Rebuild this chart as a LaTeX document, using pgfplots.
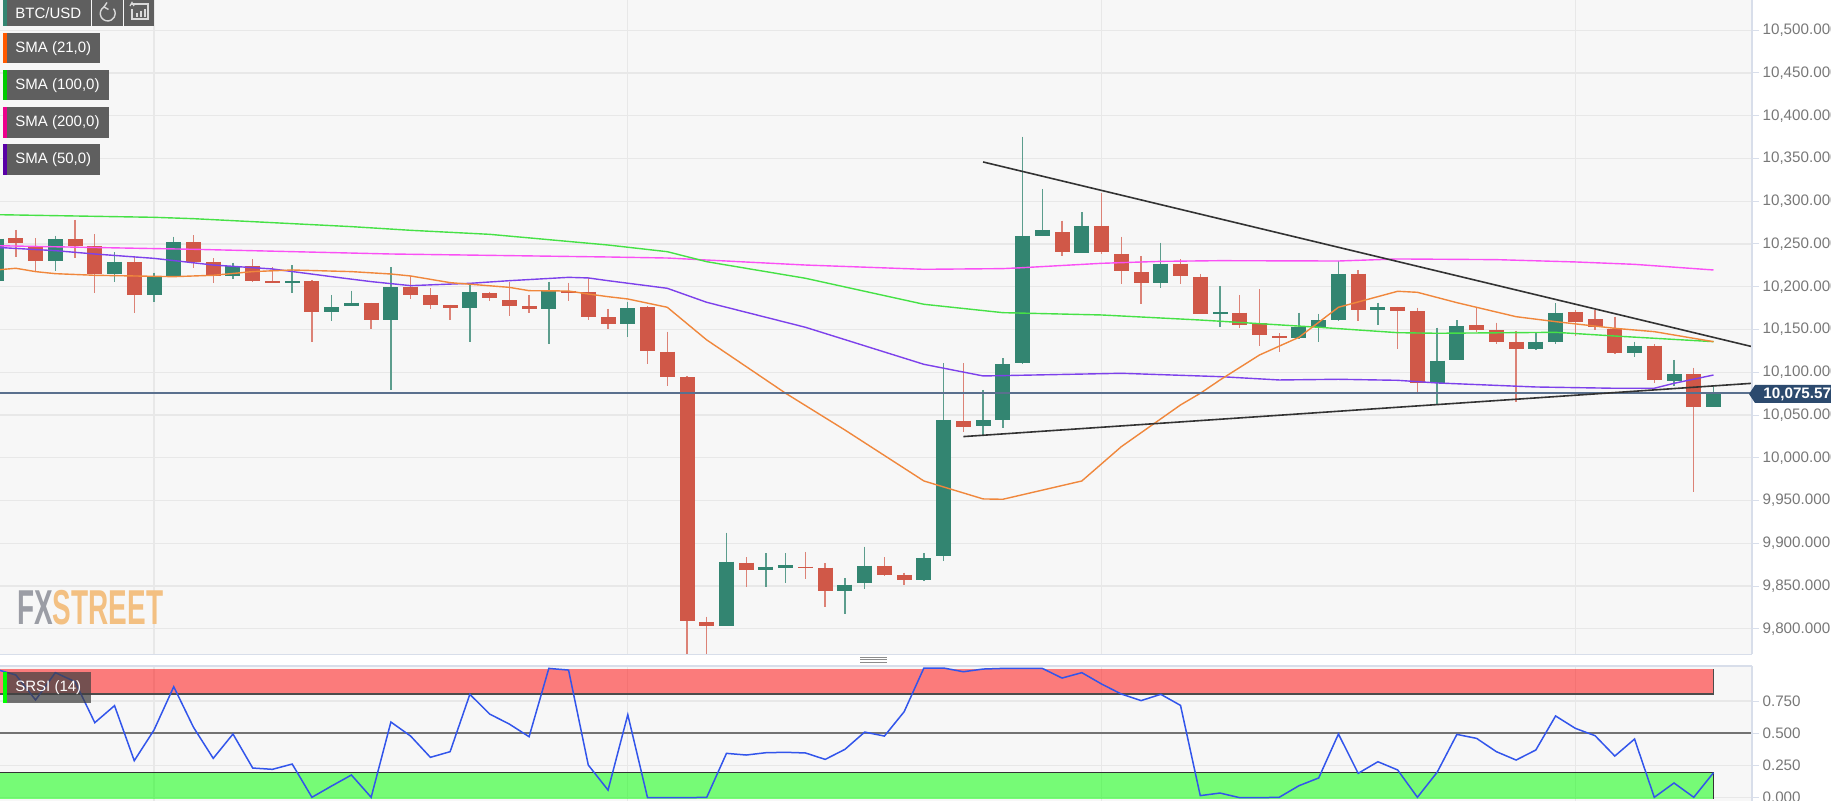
\documentclass[border=0pt]{standalone}
\usepackage{fontspec}
\setmainfont{Liberation Sans}
\usepackage{pgfplots}
\usepackage{pgfplotstable}
\pgfplotsset{compat=1.18}

\definecolor{bg}{RGB}{247,247,247}
\definecolor{gridc}{RGB}{232,232,232}
\definecolor{border}{RGB}{216,222,234}
\definecolor{upc}{RGB}{51,133,113}
\definecolor{downc}{RGB}{208,88,72}
\definecolor{chip}{RGB}{95,95,95}
\definecolor{sma21}{RGB}{240,135,60}
\definecolor{sma100}{RGB}{70,225,70}
\definecolor{sma200}{RGB}{250,80,245}
\definecolor{sma50}{RGB}{125,65,235}
\definecolor{lastc}{RGB}{90,112,142}
\definecolor{tagc}{RGB}{44,74,110}
\definecolor{srsi}{RGB}{50,85,235}
\definecolor{tickc}{RGB}{120,120,120}

% i top bot hi lo
\pgfplotstableread{
i top bot hi lo
1 10256.6 10250.8 10266.4 10235.2
2 10247.7 10230.5 10256.6 10218.8
4 10255.5 10247.7 10278.1 10233.2
5 10247.7 10214.5 10261.3 10193.1
7 10228.6 10190.0 10236.4 10169.0
10 10252.0 10229.3 10260.1 10222.3
11 10229.3 10213.0 10233.2 10204.0
13 10224.3 10206.7 10232.5 10206.0
14 10206.7 10204.4 10222.7 10204.0
16 10206.7 10170.5 10207.9 10135.4
19 10181.4 10160.8 10181.4 10150.2
21 10200.0 10190.0 10212.6 10185.3
22 10190.0 10178.7 10198.2 10173.6
23 10178.3 10174.8 10179.0 10161.1
25 10192.3 10186.5 10194.3 10183.4
26 10184.5 10177.5 10206.0 10165.8
27 10177.1 10173.6 10190.4 10169.0
29 10195.1 10192.3 10204.8 10183.4
30 10193.9 10164.7 10209.9 10161.1
31 10164.3 10156.1 10174.0 10151.0
33 10176.0 10125.3 10177.5 10109.7
34 10124.1 10094.1 10147.5 10084.0
35 10094.1 9808.9 10095.7 9760.0
36 9808.1 9803.0 9814.3 9760.0
38 9877.5 9869.3 9883.7 9849.4
41 9872.8 9871.2 9890.0 9858.7
42 9871.6 9844.3 9876.7 9825.2
45 9873.9 9863.4 9883.7 9861.9
46 9863.0 9856.8 9865.8 9851.0
49 10043.5 10035.7 10110.5 10030.6
54 10263.6 10240.3 10277.3 10236.4
56 10271.4 10241.0 10310.0 10237.9
57 10238.3 10218.8 10258.6 10203.2
58 10216.9 10204.0 10236.0 10179.5
60 10227.0 10212.6 10232.0 10203.2
61 10211.8 10168.2 10215.0 10168.0
63 10169.7 10155.3 10190.4 10151.4
64 10157.3 10143.6 10197.0 10130.8
65 10142.1 10139.7 10145.6 10124.1
69 10215.3 10172.4 10219.6 10160.0
71 10176.7 10172.1 10176.7 10127.2
72 10171.3 10087.1 10175.6 10075.4
75 10154.9 10149.5 10176.7 10147.1
76 10149.1 10135.8 10158.0 10132.7
77 10135.4 10127.2 10148.3 10064.9
80 10170.1 10159.2 10172.8 10142.4
81 10161.9 10152.6 10172.8 10149.5
82 10150.6 10122.2 10165.0 10121.4
84 10131.1 10090.6 10132.7 10087.1
86 10097.6 10059.8 10105.4 9960.5
}\downtable

\pgfplotstableread{
i top bot hi lo
0 10256.2 10206.7 10262.0 10200.0
3 10255.8 10230.5 10259.7 10218.8
6 10229.0 10214.5 10240.3 10206.0
8 10211.0 10190.0 10216.5 10182.2
9 10252.3 10211.8 10258.6 10211.0
12 10224.3 10213.0 10228.2 10209.5
15 10206.7 10204.4 10225.4 10193.1
17 10176.0 10170.5 10190.4 10159.6
18 10181.4 10177.1 10195.4 10177.0
20 10199.7 10160.8 10222.7 10079.3
24 10193.5 10174.8 10202.1 10135.4
28 10195.1 10173.6 10206.0 10132.7
32 10174.8 10156.1 10182.6 10140.9
37 9878.6 9803.0 9912.5 9803.0
39 9872.8 9869.3 9888.4 9849.4
40 9874.3 9871.6 9888.4 9854.1
43 9851.7 9844.3 9859.1 9817.4
44 9873.9 9854.1 9896.2 9846.3
47 9882.5 9856.8 9888.4 9856.0
48 10044.2 9885.6 10110.5 9879.8
50 10043.8 10037.2 10079.3 10025.5
51 10109.3 10044.2 10116.3 10034.5
52 10259.4 10110.5 10375.5 10110.0
53 10266.4 10259.4 10314.3 10259.4
55 10271.4 10239.1 10287.0 10239.0
59 10227.0 10204.0 10251.6 10198.2
62 10170.1 10167.8 10200.9 10153.4
66 10153.4 10139.7 10169.7 10139.0
67 10160.8 10153.4 10168.2 10135.8
68 10215.0 10161.1 10230.5 10160.4
70 10176.3 10172.4 10181.4 10154.9
73 10113.6 10087.9 10152.2 10062.9
74 10153.7 10114.4 10161.1 10114.0
78 10135.8 10127.2 10146.3 10126.1
79 10169.7 10135.8 10180.6 10132.7
83 10131.1 10122.2 10135.8 10118.3
85 10097.6 10090.2 10114.4 10084.0
87 10075.6 10059.8 10084.4 10059.8
}\uptable

\begin{document}
\begin{tikzpicture}
\useasboundingbox (0,0) rectangle (915.5pt,400.5pt);
\clip (0,0) rectangle (915.5pt,400.5pt);
\fill[white] (0,0) rectangle (915.5pt,400.5pt);
\fill[bg] (0,0) rectangle (876pt,67.5pt);
\fill[bg] (0,73.5pt) rectangle (876pt,400.5pt);

\pgfplotsset{
  paneaxis/.style={
    scale only axis, width=876pt,
    xmin=0.198, xmax=88.95,
    xtick={8,32,56,80}, xticklabels={},
    xmajorgrids, ymajorgrids,
    grid style={gridc, line width=0.6pt},
    axis line style={draw=none},
    major x tick style={draw=none},
    ytick pos=right, yticklabel pos=right, tick align=outside,
    major tick length=3.5pt,
    major y tick style={border, line width=0.5pt},
    ticklabel style={font=\fontsize{7.6}{9}\selectfont, text=tickc},
    yticklabel style={inner sep=1pt, xshift=0.6pt},
    scaled y ticks=false,
  },
  wick/.style={draw=none, mark=none, forget plot,
    error bars/.cd, y dir=minus, y explicit, error mark=none,
    error bar style={draw=#1, line width=0.7pt}},
  body/.style={draw=none, mark=none, forget plot,
    error bars/.cd, y dir=minus, y explicit, error mark=none,
    error bar style={draw=#1, line width=7.5pt}},
}

% price pane
\begin{axis}[paneaxis,
    at={(0pt,73.5pt)}, anchor=south west, height=327pt,
    ymin=9770.6, ymax=10535.3,
    ytick={9800,9850,...,10500},
    /pgf/number format/.cd, fixed, fixed zerofill, precision=3, 1000 sep={,}, assume math mode=true,
]
\addplot[wick=downc!75!white] table[x=i,y=hi,y error minus expr=\thisrow{hi}-\thisrow{lo}] {\downtable};
\addplot[wick=upc!80!white] table[x=i,y=hi,y error minus expr=\thisrow{hi}-\thisrow{lo}] {\uptable};
\addplot[body=downc] table[x=i,y=top,y error minus expr=\thisrow{top}-\thisrow{bot}] {\downtable};
\addplot[body=upc] table[x=i,y=top,y error minus expr=\thisrow{top}-\thisrow{bot}] {\uptable};

% SMA 200
\addplot[sma200, line width=0.7pt] coordinates {(0,10248)(10,10243.8)(20,10238.3)(31,10234.8)(34,10233.6)(41,10225.4)(47,10220.4)(51,10221.2)(52,10222.3)(56,10227.4)(59,10229.7)(62,10230.5)(68,10230.1)(71,10232.5)(76,10231.7)(80,10229)(83,10226.2)(87,10219.6)};
% SMA 100
\addplot[sma100, line width=0.7pt] coordinates {(0,10284.3)(8,10281.2)(10,10279.6)(18,10270.3)(21,10266)(25,10261.3)(31,10248.8)(34,10241)(36,10229.3)(41,10209.9)(47,10179.5)(51,10169.7)(56,10167)(61,10161.1)(67,10152.6)(71,10146.3)(73,10145.6)(79,10146.7)(82,10142.4)(87,10135.8)};
% SMA 50
\addplot[sma50, line width=0.7pt] coordinates {(0,10246.1)(3,10242.2)(5,10238.3)(8,10233.2)(11,10225.4)(14,10220.8)(17,10211.8)(19,10206)(21,10201.3)(24,10204)(26,10207.1)(29,10211)(30,10210.3)(31,10207.1)(34,10198.2)(36,10181.8)(41,10152.6)(47,10109.3)(50,10095.7)(51,10096.1)(57,10098.8)(62,10094.9)(65,10091)(68,10091.8)(71,10090.6)(73,10087.5)(78,10082.8)(82,10081.3)(84,10081.3)(85,10087.1)(87,10096.8)};
% SMA 21
\addplot[sma21, line width=0.7pt] coordinates {(0,10219.6)(1,10221.6)(2,10217.7)(3,10215.3)(5,10213.4)(7,10212.6)(9,10211.8)(11,10213.4)(13,10217.7)(15,10219.6)(18,10217.7)(20,10214.9)(21,10212.6)(23,10204.8)(26,10199.3)(27,10195.4)(29,10195)(30,10191.5)(31,10188.4)(32,10185.7)(34,10176)(36,10137.8)(40,10075.4)(43,10032.5)(47,9972.9)(50,9951.9)(51,9951.5)(55,9972.9)(57,10013)(60,10061.8)(61,10075.4)(62,10091)(64,10120.2)(66,10140.9)(68,10176)(71,10194.7)(72,10193.5)(74,10181.4)(77,10165)(79,10159.2)(82,10151.4)(84,10147.5)(87,10135.8)};

% last price
\addplot[lastc, line width=0.75pt] coordinates {(0.198,10075.57)(88.95,10075.57)};
% trend lines
\addplot[black!80, line width=0.8pt] coordinates {(50,10345.9)(88.95,10130)};
\addplot[black!80, line width=0.8pt] coordinates {(49,10024.8)(88.95,10087.1)};
\end{axis}

% SRSI pane
\begin{axis}[paneaxis,
    at={(0pt,0pt)}, anchor=south west, height=67.5pt,
    ymin=-0.0256, ymax=1.0217,
    ytick={0,0.25,0.5,0.75},
    /pgf/number format/.cd, fixed, fixed zerofill, precision=3, assume math mode=true,
]
\addplot[fill=red, fill opacity=0.5, draw=none] coordinates {(0,0.804)(87,0.804)(87,0.998)(0,0.998)} -- cycle;
\addplot[fill=green, fill opacity=0.52, draw=none] coordinates {(0,-0.012)(87,-0.012)(87,0.197)(0,0.197)} -- cycle;
\addplot[black!70, line width=0.6pt] coordinates {(0,0.804)(87,0.804)(87,0.998)};
\addplot[black!80, line width=0.6pt] coordinates {(0,0.197)(87,0.197)(87,-0.012)};
\addplot[black!55, line width=0.8pt] coordinates {(0.198,0.5)(88.95,0.5)};
\addplot[srsi, line width=0.75pt] coordinates {
(0,0.996)(1,0.952)(2,0.758)(3,0.970)(4,0.900)(5,0.582)(6,0.714)(7,0.287)(8,0.525)(9,0.861)
(10,0.546)(11,0.305)(12,0.494)(13,0.230)(14,0.220)(15,0.261)(16,0.003)(17,0.091)(18,0.176)(19,0.003)
(20,0.587)(21,0.478)(22,0.313)(23,0.357)(24,0.802)(25,0.649)(26,0.571)(27,0.473)(28,1.003)(29,0.990)
(30,0.253)(31,0.059)(32,0.644)(33,0)(34,0)(35,0)(36,0.003)(37,0.344)(38,0.331)(39,0.349)
(40,0.352)(41,0.347)(42,0.297)(43,0.375)(44,0.509)(45,0.478)(46,0.667)(47,1.006)(48,1.006)(49,0.977)
(50,0.998)(51,1.003)(52,1.003)(53,1.003)(54,0.928)(55,0.970)(56,0.882)(57,0.804)(58,0.753)(59,0.802)
(60,0.716)(61,0.016)(62,0.036)(63,0)(64,0)(65,0.003)(66,0.093)(67,0.153)(68,0.494)(69,0.189)
(70,0.279)(71,0.215)(72,0.003)(73,0.197)(74,0.491)(75,0.460)(76,0.357)(77,0.292)(78,0.370)(79,0.634)
(80,0.538)(81,0.481)(82,0.323)(83,0.455)(84,0.003)(85,0.114)(86,0.003)(87,0.194)};
\end{axis}

% everything below is in reference pixels, y down
\begin{scope}[shift={(0pt,400.5pt)}, x=0.5pt, y=-0.5pt]
  % pane borders
  \draw[border, line width=0.6pt] (0,654.5) -- (1752,654.5) (0,666) -- (1752,666);
  \draw[border, line width=0.6pt] (1752,0) -- (1752,654.5) (1752,666) -- (1752,801);
  \foreach \yy in {657.5,660,662.5} \draw[black!45, line width=0.5pt] (860,\yy) -- (887,\yy);

  % watermark
  \node[anchor=west, inner sep=0pt, font=\bfseries\fontsize{24.5}{25}\selectfont, xscale=0.57] at (17,608)
    {\textcolor[RGB]{155,157,165}{FX}\textcolor[RGB]{243,192,130}{STREET}};

  % last price tag
  \fill[tagc] (1749,394) -- (1755,385) -- (1835,385) -- (1835,403) -- (1755,403) -- cycle;
  \node[anchor=west, inner sep=0pt, text=white, font=\bfseries\fontsize{7.6}{9}\selectfont] at (1763,394.5) {10,075.57};

  % legend chips
  \newcommand{\chip}[6]{%
    \fill[chip] (#1,#2) rectangle (#3,#4);
    \fill[#5] (#1,#2) rectangle (#1+4,#4);
    \node[anchor=west, inner sep=0pt, text=white, font=\fontsize{7.5}{9}\selectfont] at (#1+12,{(#2+#4)/2+0.5}) {#6};}
  \chip{3}{-1}{91}{25.7}{upc}{BTC/USD}
  \chip{3}{33}{100}{63}{orange!70!red}{SMA (21,0)}
  \chip{3}{70}{109}{100}{green!80!black}{SMA (100,0)}
  \chip{3}{107}{109}{138}{magenta}{SMA (200,0)}
  \chip{3}{144}{100}{175}{violet!70!blue}{SMA (50,0)}
  \fill[chip] (92,-1) rectangle (123,25.7);
  \fill[chip] (124,-1) rectangle (154,25.7);
  % refresh icon
  \draw[white!85!black, line width=0.7pt] (104,7) arc[start angle=-120, end angle=-400, radius=7.5];
  \draw[white!85!black, line width=0.7pt] (107,2.5) -- (104,7) -- (108.5,9.5);
  % bar icon
  \draw[white!85!black, line width=0.6pt] (131,4) -- (148,4) -- (148,19) -- (132,19) -- (132,9);
  \draw[white!85!black, line width=0.6pt] (130,6) -- (132,2.5) -- (134,6);
  \draw[white!85!black, line width=1pt] (137,17) -- (137,13) (141,17) -- (141,11) (145,17) -- (145,9);

  % SRSI chip
  \fill[black!75, opacity=0.72] (3,672) rectangle (91,702.7);
  \fill[green] (3,672) rectangle (7,702.7);
  \node[anchor=west, inner sep=0pt, text=white, font=\fontsize{7.5}{9}\selectfont] at (15,687.5) {SRSI (14)};
\end{scope}
\end{tikzpicture}
\end{document}
